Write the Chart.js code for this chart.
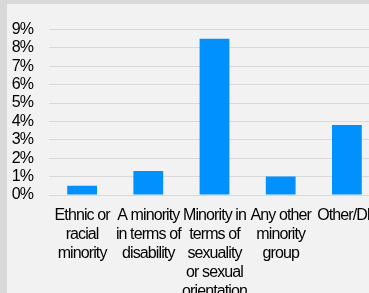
<!DOCTYPE html>
<html>
<head>
<meta charset="utf-8">
<script src="https://cdn.jsdelivr.net/npm/chart.js@4/dist/chart.umd.min.js"></script>
<style>
  html, body { margin: 0; padding: 0; overflow: hidden; background: #d9d9d9; width: 369px; height: 293px; }
  #panel { position: absolute; left: 7px; top: 4px; width: 400px; height: 320px; background: #f2f2f2; }
  #wrap { position: absolute; left: 0; top: 0; width: 373px; height: 300px; }
</style>
</head>
<body>
<div id="panel"><div id="wrap"><canvas id="myChart"></canvas></div></div>
<script>
const categories = [
  ["Ethnic or", "racial", "minority"],
  ["A minority", "in terms of", "disability"],
  ["Minority in", "terms of", "sexuality", "or sexual", "orientation"],
  ["Any other", "minority", "group"],
  ["Other/DK"]
];
const shares = [0.5, 1.3, 8.5, 1.0, 3.8];
const yTicks = [0, 1, 2, 3, 4, 5, 6, 7, 8, 9];

const font = { family: "'Liberation Sans', Arial, sans-serif", size: 16, lineHeight: 19 / 16 };

// squeeze the text, like the narrow font of the original
const narrowText = {
  id: "narrowText",
  beforeUpdate(chart) { chart.ctx.letterSpacing = "-0.9px"; },
  beforeLayout(chart) { chart.ctx.letterSpacing = "-0.9px"; },
  beforeDraw(chart) { chart.ctx.letterSpacing = "-0.9px"; }
};

const myChartUi = document.querySelector("#myChart");

new Chart(myChartUi, {
  type: "bar",
  data: {
    labels: categories,
    datasets: [
      {
        data: shares,
        backgroundColor: "#0091FF",
        barPercentage: 0.45,
        categoryPercentage: 1
      }
    ]
  },
  options: {
    responsive: true,
    maintainAspectRatio: false,
    animation: false,
    layout: { padding: { top: 17, left: 0, right: 0, bottom: 0 } },
    plugins: { legend: { display: false }, tooltip: { enabled: false } },
    scales: {
      x: {
        grid: { display: false },
        border: { color: "#d9d9d9", width: 1 },
        ticks: { color: "#000", font: font, padding: 3, maxRotation: 0, autoSkip: false },
        afterFit(axis) { axis.paddingLeft = 0; axis.paddingRight = 0; }
      },
      y: {
        min: 0,
        max: yTicks[yTicks.length - 1],
        afterBuildTicks(axis) { axis.ticks = yTicks.map(v => ({ value: v })); },
        afterFit(axis) { axis.width = 42; },
        grid: { color: "#d9d9d9", lineWidth: 1, drawTicks: false },
        border: { display: false },
        ticks: { color: "#000", font: font, padding: 16, autoSkip: false, callback: v => v + "%" }
      }
    }
  },
  plugins: [narrowText]
});
</script>
</body>
</html>
